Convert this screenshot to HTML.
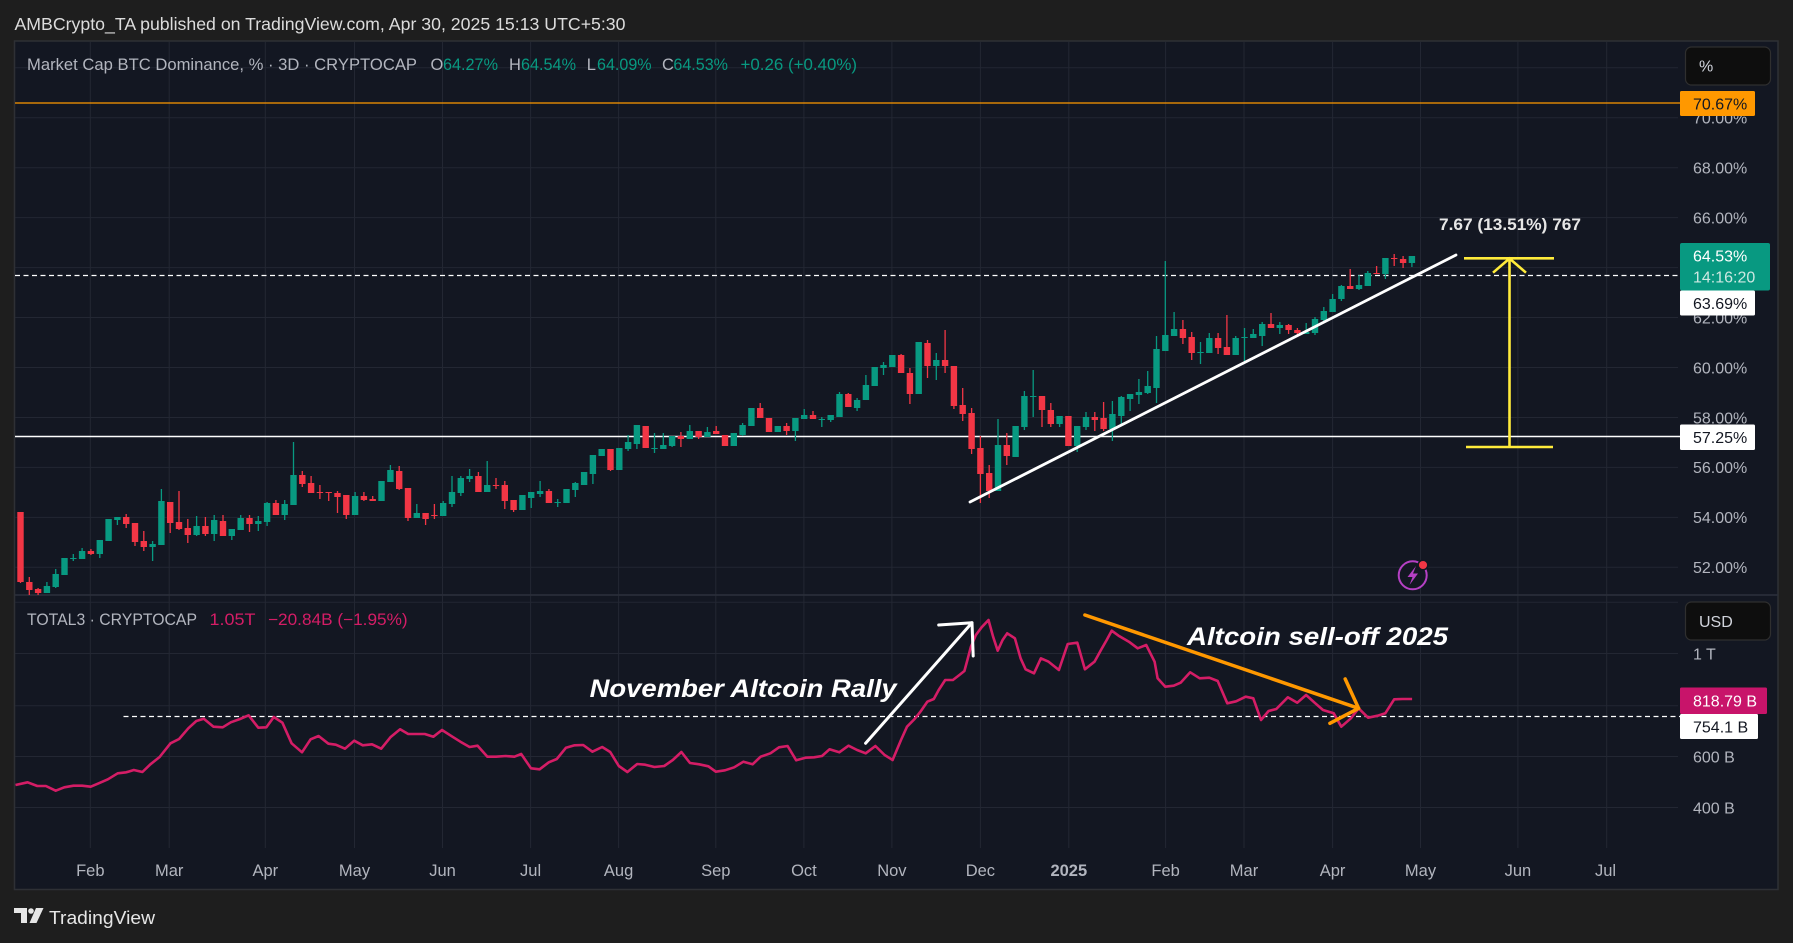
<!DOCTYPE html>
<html>
<head>
<meta charset="utf-8">
<style>
html,body{margin:0;padding:0;background:#1e1e1e;}
body{width:1793px;height:943px;overflow:hidden;}
svg{display:block;}
text{font-family:"Liberation Sans",sans-serif;}
</style>
</head>
<body>
<svg width="1793" height="943" viewBox="0 0 1793 943" xmlns="http://www.w3.org/2000/svg">
<rect x="0" y="0" width="1793" height="943" fill="#1e1e1e"/>
<!-- header -->
<text x="14.5" y="30" font-size="17.5" fill="#dcdcdc" textLength="611" lengthAdjust="spacingAndGlyphs">AMBCrypto_TA published on TradingView.com, Apr 30, 2025 15:13 UTC+5:30</text>
<!-- panel -->
<rect x="14.5" y="41" width="1763.5" height="848.5" fill="#131722" stroke="#2e3035" stroke-width="1.5"/>
<!-- grid vertical -->
<g stroke="#232733" stroke-width="1">
<path d="M90.3 42V848M169.2 42V848M265.3 42V848M354.5 42V848M442.5 42V848M530.6 42V848M618.6 42V848M715.8 42V848M803.9 42V848M891.9 42V848M980.4 42V848M1068.8 42V848M1165.6 42V848M1244 42V848M1332.6 42V848M1420.5 42V848M1517.9 42V848M1606.7 42V848"/>
<path d="M15 67.7H1678M15 117.7H1678M15 167.7H1678M15 217.6H1678M15 267.6H1678M15 317.5H1678M15 367.5H1678M15 417.5H1678M15 467.4H1678M15 517.4H1678M15 567.3H1678M15 602.3H1678M15 653.5H1678M15 705.7H1678M15 756.5H1678M15 807.5H1678"/>
</g>
<!-- pane separator -->
<line x1="15" y1="595" x2="1778" y2="595" stroke="#2a2e39" stroke-width="1.8"/>

<!-- horizontal levels -->
<line x1="15" y1="103" x2="1680" y2="103" stroke="#ff9800" stroke-width="1.3"/>
<line x1="15" y1="436.5" x2="1680" y2="436.5" stroke="#ffffff" stroke-width="1.6"/>
<line x1="15" y1="275.5" x2="1680" y2="275.5" stroke="#ffffff" stroke-width="1.2" stroke-dasharray="5 3.5"/>
<line x1="123.5" y1="716.5" x2="1680" y2="716.5" stroke="#ffffff" stroke-width="1.2" stroke-dasharray="5 3.5"/>

<!-- candles green -->
<path fill="none" stroke="#089981" stroke-width="1.3" d="M46.9 582V593M55.7 569V588M64.5 558V575M73.3 554V561M82.1 548V559M99.8 540V558M108.6 519V541M117.4 517V525M152.6 541V561M161.4 489V545M196.6 516V536M214.2 515V541M231.8 529V540M240.7 515V530M258.3 516V531M267.1 502V526M284.7 500V520M293.5 442V505M355.1 492V515M381.5 481V501M390.4 465V482M416.8 504V518M443.2 501V516M452 476V507M460.8 476V496M469.6 469V482M487.2 461V492M522.4 495V510M531.2 492V508M540.1 481V497M557.7 499V507M566.5 489V503M575.3 482V497M584.1 472V485M592.9 455V484M601.7 449V456M619.3 448V470M628.1 435V451M636.9 425V449M654.5 433V453M663.3 433V449M672.1 436V447M689.8 425V439M707.4 427V437M733.8 433V446M742.6 423V436M751.4 408V426M777.8 426V432M795.4 418V441M804.2 409V419M821.8 417V427M830.7 415V422M839.5 392V417M857.1 398V411M865.9 375V400M874.7 367V386M883.5 362V375M892.3 355V367M918.7 342V394M936.3 353V380M998 419V491M1015.6 426V457M1024.4 391V430M1033.2 370V417M1059.6 416V427M1077.2 426V452M1086 412V430M1112.4 401V441M1121.3 396V426M1130.1 394V411M1138.9 379V404M1147.7 371V394M1156.5 336V403M1165.3 261V351M1174.1 312V336M1200.5 342V364M1209.3 333V353M1235.7 336V355M1244.5 328V362M1253.3 329V338M1262.2 322V346M1279.8 322V334M1306.2 323V334M1315 317V335M1323.8 307V322M1332.6 294V312M1341.4 285V301M1359 275V290M1367.8 271V286M1385.4 258V279M1411.9 256V267"/>
<path fill="none" stroke="#089981" stroke-width="6.4" d="M46.9 586V593M55.7 574V587M64.5 558V575M73.3 558V559M82.1 551V559M99.8 540V554M108.6 519V541M117.4 517V520M152.6 544V547M161.4 501V545M196.6 526V535M214.2 520V534M231.8 529V536M240.7 518V530M258.3 521V524M267.1 503V522M284.7 504V515M293.5 475V505M355.1 496V515M381.5 481V501M390.4 470V482M416.8 513V518M443.2 503V516M452 492V504M460.8 478V493M469.6 476V479M487.2 485V492M522.4 495V510M531.2 492V498M540.1 491V494M557.7 502V503M566.5 489V503M575.3 483V490M584.1 472V485M592.9 455V474M601.7 449V456M619.3 448V470M628.1 442V449M636.9 425V444M654.5 448V449M663.3 445V449M672.1 436V446M689.8 431V439M707.4 432V437M733.8 433V446M742.6 425V435M751.4 408V426M777.8 426V432M795.4 418V431M804.2 415V419M821.8 419V420M830.7 415V420M839.5 394V417M857.1 400V408M865.9 385V400M874.7 367V386M883.5 365V368M892.3 355V367M918.7 342V394M936.3 360V366M998 445V491M1015.6 426V457M1024.4 396V427M1033.2 396V397M1059.6 416V424M1077.2 426V446M1086 417V427M1112.4 414V429M1121.3 397V416M1130.1 394V399M1138.9 392V395M1147.7 386V393M1156.5 349V388M1165.3 335V351M1174.1 329V336M1200.5 352V353M1209.3 338V353M1235.7 338V355M1244.5 337V338M1253.3 334V338M1262.2 324V336M1279.8 325V328M1306.2 332V334M1315 319V333M1323.8 311V320M1332.6 299V312M1341.4 286V299M1359 285V289M1367.8 273V286M1385.4 258V274M1411.9 256V263"/>
<!-- candles red -->
<path fill="none" stroke="#f23645" stroke-width="1.3" d="M20.5 512V583M29.3 577V595M38.1 588V595M90.9 549V555M126.2 514V528M135 523V546M143.8 531V551M170.2 502V533M179 491V530M187.8 519V543M205.4 517V536M223 515V536M249.5 515V532M275.9 500V515M302.3 471V487M311.1 476V493M319.9 485V499M328.7 492V501M337.5 491V513M346.3 495V519M363.9 492V501M372.7 496V501M399.2 466V490M408 488V521M425.6 513V525M434.4 504V519M478.4 472V492M496 478V489M504.8 481V509M513.6 500V512M548.9 489V503M610.5 449V471M645.7 426V448M680.9 432V447M698.6 431V439M716.2 426V434M725 435V446M760.2 403V418M769 418V432M786.6 423V435M813 411V419M848.3 393V407M901.1 354V373M909.9 368V404M927.5 340V378M945.1 330V373M953.9 366V409M962.7 388V421M971.6 408V454M980.4 436V503M989.2 465V498M1006.8 433V465M1042 396V427M1050.8 403V427M1068.4 416V446M1094.8 412V431M1103.6 402V431M1182.9 320V344M1191.7 332V360M1218.1 333V354M1226.9 315V355M1271 313V328M1288.6 324V334M1297.4 328V337M1350.2 269V289M1376.6 266V274M1394.2 254V266M1403.1 256V268"/>
<path fill="none" stroke="#f23645" stroke-width="6.4" d="M20.5 512V582M29.3 582V590M38.1 589V593M90.9 551V554M126.2 517V524M135 523V542M143.8 541V547M170.2 502V523M179 522V529M187.8 528V535M205.4 526V534M223 521V536M249.5 518V524M275.9 503V515M302.3 475V484M311.1 483V493M319.9 492V493M328.7 492V493M337.5 493V497M346.3 495V515M363.9 496V500M372.7 499V501M399.2 471V489M408 488V518M425.6 513V519M434.4 515V516M478.4 476V492M496 485V486M504.8 485V501M513.6 500V510M548.9 491V503M610.5 449V470M645.7 426V448M680.9 436V439M698.6 431V437M716.2 431V434M725 435V446M760.2 408V418M769 418V432M786.6 426V431M813 415V419M848.3 394V407M901.1 355V373M909.9 373V394M927.5 343V366M945.1 360V366M953.9 366V406M962.7 405V414M971.6 413V449M980.4 448V474M989.2 473V491M1006.8 445V456M1042 396V410M1050.8 410V424M1068.4 416V446M1094.8 417V420M1103.6 418V429M1182.9 329V338M1191.7 337V353M1218.1 338V348M1226.9 347V355M1271 324V328M1288.6 325V330M1297.4 330V333M1350.2 286V289M1376.6 273V274M1394.2 258V259M1403.1 259V263"/>

<!-- trendline -->
<line x1="970" y1="502" x2="1456" y2="255" stroke="#ffffff" stroke-width="2.8" stroke-linecap="round"/>

<!-- yellow measure -->
<path d="M1464 258.3H1554M1466 447H1553M1509.5 258.5V447" stroke="#ffeb3b" stroke-width="2.6" fill="none"/>
<path d="M1493 272.7L1509.5 258.5L1526 272.7" stroke="#ffeb3b" stroke-width="2.6" fill="none"/>
<text x="1439" y="230" font-size="17" font-weight="bold" fill="#e6e6e6" textLength="142" lengthAdjust="spacingAndGlyphs">7.67 (13.51%) 767</text>

<!-- lightning icon -->
<circle cx="1412.7" cy="575.3" r="14" fill="#131722" stroke="#b540c4" stroke-width="2"/>
<path d="M1416 566L1407.5 577H1412.5L1409.5 585L1418 573.5H1413Z" fill="#b540c4"/>
<circle cx="1423" cy="565" r="4.8" fill="#f23645" stroke="#131722" stroke-width="1.5"/>

<!-- pink line -->
<polyline fill="none" stroke="#d41d66" stroke-width="2.6" stroke-linejoin="round" points="15.5,785 27.6,782.3 37.3,786 45.9,786 55.7,790.7 64.3,787.3 73.5,785.7 82.1,785.7 90.7,786.7 98.7,783.3 107.9,779.3 117.7,773.3 126.3,772.3 133.8,770 142.4,772 150.4,764.3 159.6,757 170.5,743.3 179.1,739 188.3,728.3 196.3,721 203.8,718.7 213.5,726.7 222.7,727.3 230.8,722.3 240,719 248.6,715.3 258.3,727.7 266.4,727.3 273.8,717 282.4,722.7 291.6,743.3 302,752.3 310.6,739.3 318.6,736 328.4,743.7 335.8,744.7 345,748.7 354.2,740.7 362.8,745.3 372,744.3 381.2,748.7 390.4,737.3 400.1,729.3 408.2,734 417.3,734 424.8,734 433.4,736.7 442,730 452.4,736.7 460.4,741.7 469.6,747 477.6,745.7 487.4,756.7 496,756.7 505.7,756 514.4,756.7 521.2,754 531,768.3 539.6,769.3 548.8,762.3 556.8,759 566,747.7 574.6,745.3 583.2,745 592.4,751.7 602.2,747 610.2,752 618.8,766 627.4,772 637.2,764 645.2,764.7 654.4,767 664.2,766 672.8,760 681.4,752 690,763 699.2,764.3 708.4,766.3 715.8,771.7 725,770.3 734.2,767.3 743.4,761.7 752.6,764.3 760.6,756.7 770.4,753.3 779,747.3 787.6,746 796.2,760.3 805.4,757.7 814,757.3 822,756 829.5,749.3 839.3,752.3 848.5,745.7 857.1,750 865.7,753.3 875.4,746 884.6,755 892.6,760 901,740 907,726.7 914.6,719 920.4,711.7 927.3,701.7 933.8,699 938.7,690 945.2,680 952.9,680 959.4,675 964.4,671 967.4,660 970.9,646.7 975.9,635 981.6,627.3 988.5,620 993.1,636.7 997.7,650.7 1002.6,640 1007.2,633.3 1014.9,638.3 1020.6,658.3 1025.6,669.3 1034,673.3 1040.9,658.3 1048.6,661.7 1058.9,670 1067.7,644 1077.3,642.7 1084.9,669.3 1094.5,661.7 1101.4,649.3 1106.7,640 1111.7,630.7 1118.6,635.7 1128.9,641.7 1137.7,648.3 1146.2,645 1154.6,661.7 1157.6,678.3 1165.3,686.7 1173.7,685.7 1180.6,682.7 1190.2,672.3 1199.7,678.3 1209.3,677.7 1217.7,681 1227.3,703.3 1236.1,701.3 1245.7,696.7 1253.3,698.3 1261,720 1268.6,711 1276.3,709 1287.8,697.3 1297.3,702.7 1306.1,695 1314.6,702.7 1323,710 1333.7,713.3 1341.3,726.7 1350.9,718.3 1358.6,708.3 1368.1,717.7 1377.7,715.7 1385.3,713.3 1394.2,699.3 1402.6,699 1412.1,699"/>

<!-- annotations -->
<line x1="865.6" y1="743.3" x2="972" y2="622.7" stroke="#ffffff" stroke-width="3" stroke-linecap="round"/>
<polyline points="938.7,625 972,622.7 973.2,656" fill="none" stroke="#ffffff" stroke-width="3" stroke-linecap="round" stroke-linejoin="round"/>
<text x="589.6" y="697" font-size="25" font-weight="bold" font-style="italic" fill="#ffffff" textLength="307" lengthAdjust="spacingAndGlyphs">November  Altcoin Rally</text>
<line x1="1084.9" y1="615" x2="1358.6" y2="708.3" stroke="#ff9800" stroke-width="3.5" stroke-linecap="round"/>
<polyline points="1345.2,679 1358.6,708.3 1329.9,723.3" fill="none" stroke="#ff9800" stroke-width="3.5" stroke-linecap="round" stroke-linejoin="round"/>
<text x="1187" y="645" font-size="25" font-weight="bold" font-style="italic" fill="#ffffff" textLength="261" lengthAdjust="spacingAndGlyphs">Altcoin sell-off 2025</text>

<!-- legends -->
<g font-size="16.5">
<text x="27" y="70" fill="#b2b5be" textLength="390" lengthAdjust="spacingAndGlyphs">Market Cap BTC Dominance, % · 3D · CRYPTOCAP</text>
<text x="430.5" y="70" fill="#b2b5be">O</text>
<text x="443" y="70" fill="#089981" textLength="55" lengthAdjust="spacingAndGlyphs">64.27%</text>
<text x="509" y="70" fill="#b2b5be">H</text>
<text x="521" y="70" fill="#089981" textLength="55" lengthAdjust="spacingAndGlyphs">64.54%</text>
<text x="586.7" y="70" fill="#b2b5be">L</text>
<text x="597" y="70" fill="#089981" textLength="54.6" lengthAdjust="spacingAndGlyphs">64.09%</text>
<text x="662" y="70" fill="#b2b5be">C</text>
<text x="673.4" y="70" fill="#089981" textLength="54.6" lengthAdjust="spacingAndGlyphs">64.53%</text>
<text x="740.5" y="70" fill="#089981" textLength="116.5" lengthAdjust="spacingAndGlyphs">+0.26 (+0.40%)</text>
<text x="27" y="625" fill="#b2b5be" textLength="170" lengthAdjust="spacingAndGlyphs">TOTAL3 · CRYPTOCAP</text>
<text x="209.5" y="625" fill="#d41d66" textLength="46" lengthAdjust="spacingAndGlyphs">1.05T</text>
<text x="268" y="625" fill="#d41d66" textLength="139.6" lengthAdjust="spacingAndGlyphs">−20.84B (−1.95%)</text>
</g>

<!-- price axis -->
<g font-size="16" fill="#b2b5be">
<text x="1693" y="123.5">70.00%</text>
<text x="1693" y="173.5">68.00%</text>
<text x="1693" y="223.4">66.00%</text>
<text x="1693" y="273.4">64.00%</text>
<text x="1693" y="323.3">62.00%</text>
<text x="1693" y="373.3">60.00%</text>
<text x="1693" y="423.3">58.00%</text>
<text x="1693" y="473.2">56.00%</text>
<text x="1693" y="523.2">54.00%</text>
<text x="1693" y="573.1">52.00%</text>
<text x="1693" y="659.3">1 T</text>
<text x="1693" y="711.5">800 B</text>
<text x="1693" y="762.3">600 B</text>
<text x="1693" y="813.3">400 B</text>
</g>
<!-- unit boxes -->
<rect x="1685.5" y="47" width="85" height="38" rx="6" fill="#0e0e0e" stroke="#2f2f2f" stroke-width="1.2"/>
<text x="1699" y="71.5" font-size="16" fill="#d1d4dc">%</text>
<rect x="1685.5" y="602" width="85" height="38" rx="6" fill="#0e0e0e" stroke="#2f2f2f" stroke-width="1.2"/>
<text x="1699" y="627" font-size="16" fill="#d1d4dc">USD</text>

<!-- value labels -->
<rect x="1680" y="91" width="75" height="25" rx="1.5" fill="#ff9800"/>
<text x="1693" y="109.5" font-size="16" fill="#131722">70.67%</text>
<rect x="1680" y="243" width="90" height="47.5" rx="2" fill="#089981"/>
<text x="1693" y="261.5" font-size="16" fill="#ffffff">64.53%</text>
<text x="1693" y="282.5" font-size="16" fill="#cde8e2">14:16:20</text>
<rect x="1680" y="290.5" width="75" height="25" rx="1.5" fill="#ffffff"/>
<text x="1693" y="308.8" font-size="16" fill="#131722">63.69%</text>
<rect x="1680" y="424.5" width="75" height="25.5" rx="1.5" fill="#ffffff"/>
<text x="1693" y="443" font-size="16" fill="#131722">57.25%</text>
<rect x="1680" y="687.5" width="87" height="26.5" rx="1.5" fill="#c8146a"/>
<text x="1693" y="706.5" font-size="16" fill="#ffffff">818.79 B</text>
<rect x="1680" y="714" width="78" height="25" rx="1.5" fill="#ffffff"/>
<text x="1693" y="732.3" font-size="16" fill="#131722">754.1 B</text>

<!-- time axis -->
<g font-size="16.5" fill="#b2b5be" text-anchor="middle">
<text x="90.3" y="876">Feb</text>
<text x="169.2" y="876">Mar</text>
<text x="265.3" y="876">Apr</text>
<text x="354.5" y="876">May</text>
<text x="442.5" y="876">Jun</text>
<text x="530.6" y="876">Jul</text>
<text x="618.6" y="876">Aug</text>
<text x="715.8" y="876">Sep</text>
<text x="803.9" y="876">Oct</text>
<text x="891.9" y="876">Nov</text>
<text x="980.4" y="876">Dec</text>
<text x="1068.8" y="876" font-weight="bold">2025</text>
<text x="1165.6" y="876">Feb</text>
<text x="1244" y="876">Mar</text>
<text x="1332.6" y="876">Apr</text>
<text x="1420.5" y="876">May</text>
<text x="1517.9" y="876">Jun</text>
<text x="1605.5" y="876">Jul</text>
</g>

<!-- TradingView logo -->
<g fill="#e6e6e6">
<path d="M14 908H27V923H21V913H14Z"/>
<circle cx="31" cy="911" r="2.8"/>
<path d="M36 908H43.5L36.5 923H29.5Z"/>
</g>
<text x="49" y="924" font-size="18" fill="#e6e6e6" textLength="106" lengthAdjust="spacingAndGlyphs">TradingView</text>
</svg>
</body>
</html>
